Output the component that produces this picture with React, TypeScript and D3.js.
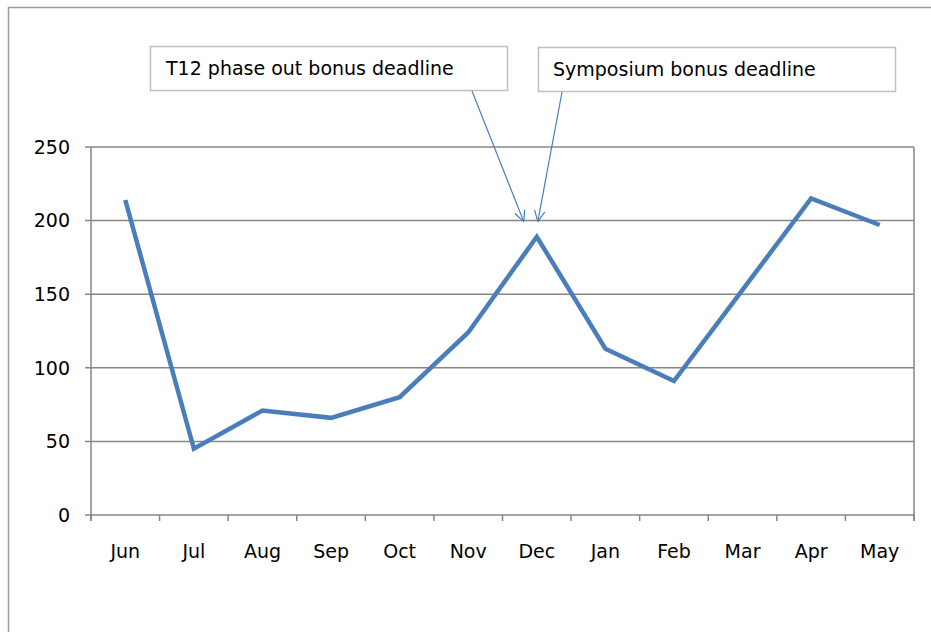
import { useEffect, useRef } from 'react';
import * as d3 from 'd3';

const months = ['Jun', 'Jul', 'Aug', 'Sep', 'Oct', 'Nov', 'Dec', 'Jan', 'Feb', 'Mar', 'Apr', 'May'];
const counts = [214, 45, 71, 66, 80, 124, 189, 113, 91, 153, 215, 197];
const yTicks = [0, 50, 100, 150, 200, 250];

// callouts: label, month they point at, and value the arrow tip lands on
const calloutLabels = ['T12 phase out bonus deadline', 'Symposium bonus deadline'];
const calloutMonths = ['Dec', 'Dec'];
const calloutTipValues = [200, 200];

const W = 931;
const H = 632;
const FONT = '"DejaVu Sans", sans-serif';
const LINE = '#4a7ebb';
const GRID = '#868686';

export default function App() {
  const svgRef = useRef<SVGSVGElement>(null);

  useEffect(() => {
    if (!svgRef.current) return;
    const svg = d3.select(svgRef.current);
    svg.selectAll('*').remove();

    const margin = { top: 147, right: 17, bottom: 117, left: 91 };
    const innerWidth = W - margin.left - margin.right;
    const innerHeight = H - margin.top - margin.bottom;

    // outer chart frame (runs off the right and bottom edge)
    svg
      .append('rect')
      .attr('x', 8.5)
      .attr('y', 7.5)
      .attr('width', W + 20)
      .attr('height', H + 20)
      .attr('fill', '#fff')
      .attr('stroke', '#9a9a9a')
      .attr('stroke-width', 1.5);

    const g = svg.append('g').attr('transform', `translate(${margin.left},${margin.top})`);

    const x = d3.scaleBand().domain(months).range([0, innerWidth]);
    const y = d3.scaleLinear().domain([0, 250]).range([innerHeight, 0]);

    // gridlines
    g.selectAll('.grid')
      .data(yTicks)
      .enter()
      .append('line')
      .attr('x1', -6)
      .attr('x2', innerWidth)
      .attr('y1', (d) => y(d))
      .attr('y2', (d) => y(d))
      .attr('stroke', GRID)
      .attr('stroke-width', 1.5);

    // y axis + right border
    g.append('line')
      .attr('x1', 0)
      .attr('x2', 0)
      .attr('y1', 0)
      .attr('y2', innerHeight + 6)
      .attr('stroke', GRID)
      .attr('stroke-width', 1.5);
    g.append('line')
      .attr('x1', innerWidth)
      .attr('x2', innerWidth)
      .attr('y1', 0)
      .attr('y2', innerHeight + 6)
      .attr('stroke', GRID)
      .attr('stroke-width', 1.5);

    g.selectAll('.ylab')
      .data(yTicks)
      .enter()
      .append('text')
      .attr('x', -21)
      .attr('y', (d) => y(d))
      .attr('dy', '0.36em')
      .attr('text-anchor', 'end')
      .style('font-family', FONT)
      .style('font-size', '19px')
      .style('fill', '#000')
      .text((d) => d);

    // x ticks at band boundaries
    const bounds = months.map((m) => x(m) || 0).concat([innerWidth]);
    g.selectAll('.xtick')
      .data(bounds)
      .enter()
      .append('line')
      .attr('x1', (d) => d)
      .attr('x2', (d) => d)
      .attr('y1', innerHeight)
      .attr('y2', innerHeight + 6)
      .attr('stroke', GRID)
      .attr('stroke-width', 1.5);

    g.selectAll('.xlab')
      .data(months)
      .enter()
      .append('text')
      .attr('x', (d) => (x(d) || 0) + x.bandwidth() / 2)
      .attr('y', innerHeight + 43)
      .attr('text-anchor', 'middle')
      .style('font-family', FONT)
      .style('font-size', '19px')
      .style('fill', '#000')
      .text((d) => d);

    const line = d3
      .line<number>()
      .x((_, i) => (x(months[i]) || 0) + x.bandwidth() / 2)
      .y((d) => y(d));

    g.append('path')
      .datum(counts)
      .attr('d', line)
      .attr('fill', 'none')
      .attr('stroke', LINE)
      .attr('stroke-width', 4.5)
      .attr('stroke-linejoin', 'miter');

    // callout boxes
    const boxes = [
      { x: 150.5, y: 46.5, w: 357, h: 44, tx: 166, ax: 472, ay: 91, dx: -13 },
      { x: 538.5, y: 47.5, w: 357, h: 44, tx: 553, ax: 562, ay: 92, dx: 1 },
    ];

    calloutLabels.forEach((label, i) => {
      const b = boxes[i];
      svg
        .append('rect')
        .attr('x', b.x)
        .attr('y', b.y)
        .attr('width', b.w)
        .attr('height', b.h)
        .attr('fill', '#fff')
        .attr('stroke', '#c0c0c0')
        .attr('stroke-width', 1.5);
      svg
        .append('text')
        .attr('x', b.tx)
        .attr('y', b.y + b.h / 2)
        .attr('dy', '0.36em')
        .style('font-family', FONT)
        .style('font-size', '19px')
        .style('fill', '#000')
        .text(label);

      const tipX = margin.left + (x(calloutMonths[i]) || 0) + x.bandwidth() / 2 + b.dx;
      const tipY = margin.top + y(calloutTipValues[i]) + 1;
      svg
        .append('line')
        .attr('x1', b.ax)
        .attr('y1', b.ay)
        .attr('x2', tipX)
        .attr('y2', tipY)
        .attr('stroke', LINE)
        .attr('stroke-width', 1.2);

      const ang = Math.atan2(tipY - b.ay, tipX - b.ax);
      const len = 12;
      const spread = 0.45;
      [ang + Math.PI - spread, ang + Math.PI + spread].forEach((a) => {
        svg
          .append('line')
          .attr('x1', tipX)
          .attr('y1', tipY)
          .attr('x2', tipX + len * Math.cos(a))
          .attr('y2', tipY + len * Math.sin(a))
          .attr('stroke', LINE)
          .attr('stroke-width', 1.2);
      });
    });
  }, []);

  return (
    <svg
      ref={svgRef}
      width={W}
      height={H}
      style={{ position: 'absolute', left: 0, top: 0, display: 'block' }}
    />
  );
}
